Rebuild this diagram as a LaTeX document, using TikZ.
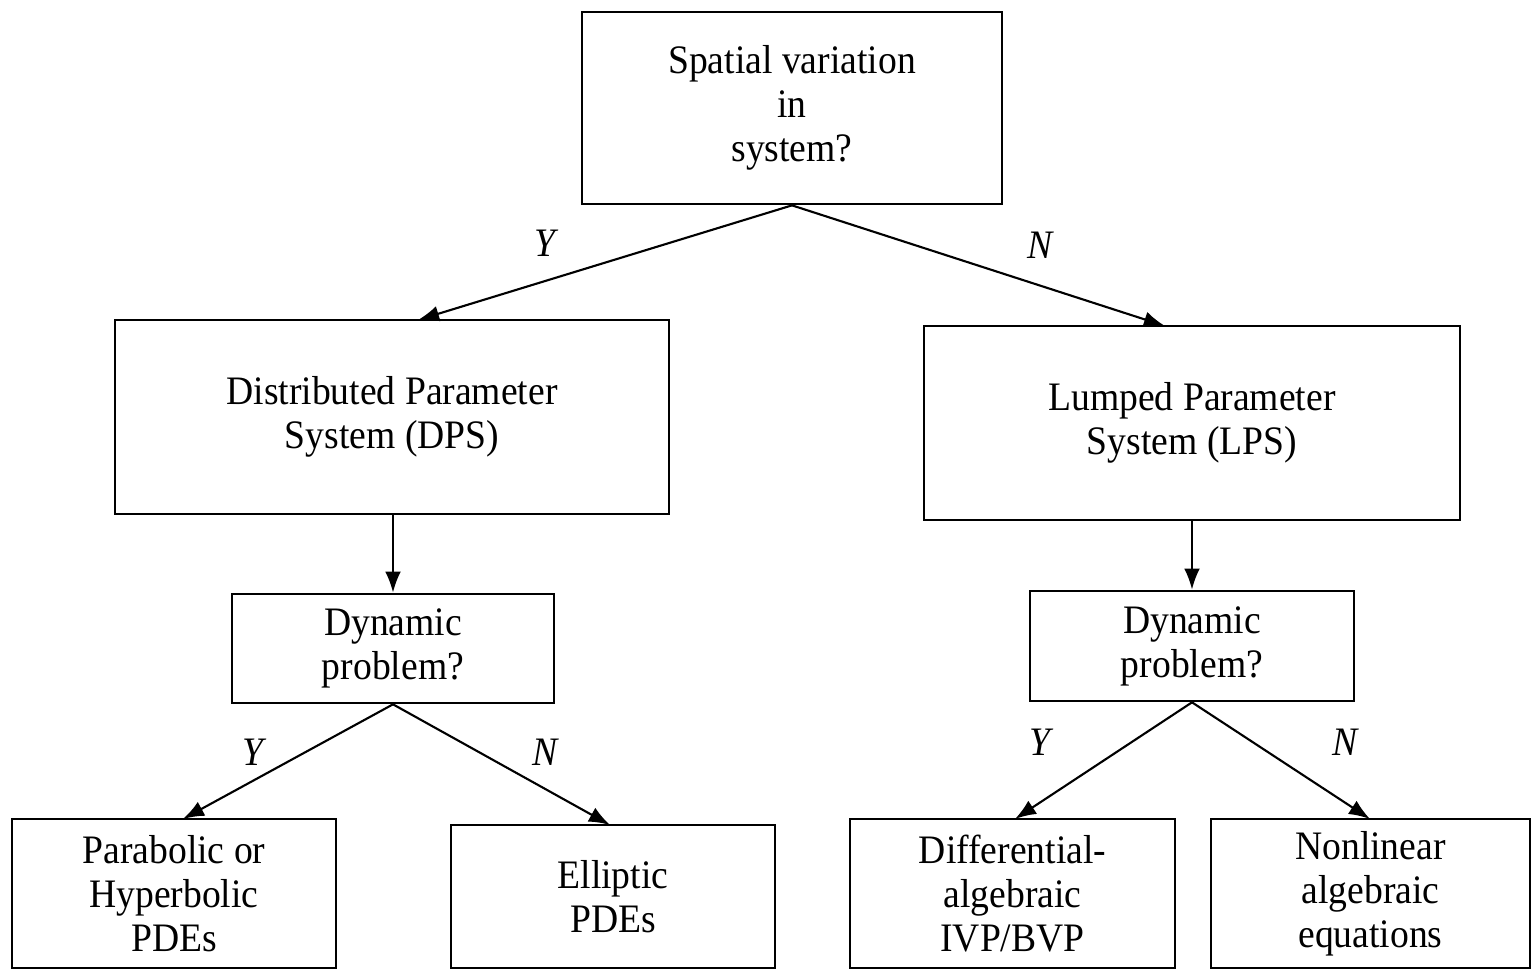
\documentclass[tikz,border=0pt]{standalone}
\usepackage{fontspec}
\setmainfont[FakeStretch=0.93]{Liberation Serif}
\usetikzlibrary{arrows.meta}
\begin{document}
\begin{tikzpicture}[x=0.01cm,y=-0.01cm,
  box/.style={draw,line width=0.75pt,align=center,inner sep=0pt,font=\fontsize{11.5}{12.5}\selectfont},
  arr/.style={line width=0.6pt,-{Latex[length=6pt,width=4.5pt]}},
  yn/.style={font=\fontsize{11.5}{12.5}\selectfont\itshape}]
\useasboundingbox (0,0) rectangle (1532,971);
\node[box,minimum width=4.2cm,minimum height=1.92cm] (top) at (792,108) {Spatial variation\\in\\system?};
\node[box,minimum width=5.54cm,minimum height=1.94cm] (dps) at (392,417) {Distributed Parameter\\System (DPS)};
\node[box,minimum width=5.36cm,minimum height=1.94cm] (lps) at (1192,423) {Lumped Parameter\\System (LPS)};
\node[box,minimum width=3.22cm,minimum height=1.09cm] (dynl) at (393,648.5) {Dynamic\\problem?};
\node[box,minimum width=3.24cm,minimum height=1.10cm] (dynr) at (1192,646) {Dynamic\\problem?};
\node[box,minimum width=3.24cm,minimum height=1.49cm] (par) at (174,893.5) {Parabolic or\\Hyperbolic\\PDEs};
\node[box,minimum width=3.24cm,minimum height=1.43cm] (ell) at (613,896.5) {Elliptic\\PDEs};
\node[box,minimum width=3.25cm,minimum height=1.49cm] (dae) at (1012.5,893.5) {Differential-\\algebraic\\IVP/BVP};
\node[box,minimum width=3.19cm,minimum height=1.49cm] (nla) at (1370.5,893.5) {Nonlinear\\algebraic\\equations};
\coordinate (t1) at (418,320);
\coordinate (t2) at (1165,326);
\coordinate (l1) at (183,819);
\coordinate (l2) at (610,825);
\coordinate (r1) at (1015,819);
\coordinate (r2) at (1370,819);
\draw[arr] (top.south) -- (t1);
\draw[arr] (top.south) -- (t2);
\draw[arr] (dps.south -| dynl.north) -- (dynl.north);
\draw[arr] (lps.south) -- (dynr.north);
\draw[arr] (dynl.south) -- (l1);
\draw[arr] (dynl.south) -- (l2);
\draw[arr] (dynr.south) -- (r1);
\draw[arr] (dynr.south) -- (r2);
\node[yn] (y1) at (545,243) {Y};
\node[yn] (n1) at (1040,245) {N};
\node[yn] (y2) at (253,752) {Y};
\node[yn] (n2) at (545,752) {N};
\node[yn] (y3) at (1040,742) {Y};
\node[yn] (n3) at (1345,742) {N};
\end{tikzpicture}
\end{document}
